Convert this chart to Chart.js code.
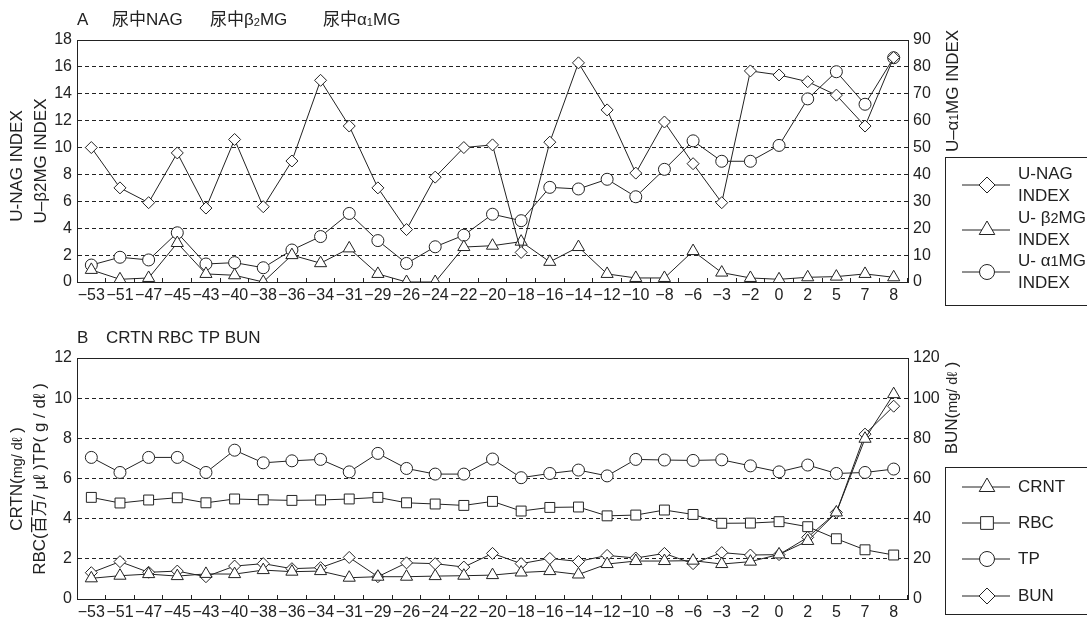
<!DOCTYPE html>
<html><head><meta charset="utf-8">
<script src="https://cdn.jsdelivr.net/npm/chart.js@4/dist/chart.umd.min.js"></script>
<style>
html,body{margin:0;padding:0;background:#fff;}
#wrap{position:relative;width:1087px;height:621px;overflow:hidden;background:#fff;}
#c1{position:absolute;left:0;top:0;}
#c2{position:absolute;left:0;top:310px;}
</style></head><body>
<div id="wrap">
<canvas id="c1" width="1087" height="310"></canvas>
<canvas id="c2" width="1087" height="311"></canvas>
</div>
<script>
// ---- data ----
const categories = [-53,-51,-47,-45,-43,-40,-38,-36,-34,-31,-29,-26,-24,-22,-20,-18,-16,-14,-12,-10,-8,-6,-3,-2,0,2,5,7,8];
const uNag  = [10.0,7.0,5.9,9.6,5.5,10.6,5.6,9.0,15.0,11.6,7.0,3.9,7.8,10.0,10.2,2.2,10.4,16.3,12.8,8.1,11.9,8.8,5.9,15.7,15.4,14.9,13.9,11.6,16.7];
const uB2mg = [0.9,0.2,0.3,2.9,0.6,0.5,0.0,2.0,1.4,2.5,0.6,0.0,0.0,2.6,2.7,3.0,1.5,2.6,0.6,0.3,0.3,2.3,0.7,0.3,0.2,0.35,0.4,0.6,0.35];
const uA1mg = [6.3,9.2,8.2,18.3,6.7,7.2,5.3,11.9,16.9,25.5,15.4,6.9,13.1,17.4,25.2,22.8,35.2,34.6,38.2,31.7,41.9,52.5,44.9,44.9,50.8,68.1,78.2,66.1,83.4];
const crtn  = [1.03,1.16,1.24,1.14,1.25,1.24,1.44,1.36,1.39,1.06,1.11,1.11,1.14,1.16,1.19,1.32,1.39,1.22,1.74,1.89,1.89,1.91,1.74,1.86,2.22,2.89,4.31,7.98,10.2];
const rbc   = [5.06,4.78,4.93,5.04,4.79,4.98,4.94,4.91,4.93,4.98,5.06,4.79,4.73,4.66,4.86,4.38,4.56,4.58,4.14,4.18,4.43,4.21,3.77,3.78,3.85,3.60,3.00,2.45,2.19];
const tp    = [7.05,6.30,7.05,7.05,6.30,7.41,6.78,6.88,6.95,6.33,7.25,6.50,6.22,6.22,6.97,6.04,6.25,6.42,6.13,6.95,6.92,6.90,6.93,6.63,6.33,6.67,6.25,6.30,6.47];
const bun   = [13.1,18.6,13.3,13.9,11.1,16.4,17.6,15.1,15.6,20.7,11.1,18.0,17.6,15.9,22.7,17.6,20.2,18.7,21.7,20.4,22.7,17.6,23.1,21.9,22.1,30.7,43.1,82.1,96.0];
const axisA_left  = {min:0, max:18, step:2};
const axisA_right = {min:0, max:90, step:10};
const axisB_left  = {min:0, max:12, step:2};
const axisB_right = {min:0, max:120, step:20};

// ---- styling helpers ----
const FONT = "'Liberation Sans','Noto Sans CJK JP',sans-serif";
const INK = '#222';
Chart.defaults.font.family = FONT;
Chart.defaults.color = INK;

function drawRich(ctx, runs, x, y, size, align){
  let w = 0;
  const parts = runs.map(r => {
    const [t, f = 1, dy = 0] = Array.isArray(r) ? r : [r];
    ctx.font = (size * f) + 'px ' + FONT;
    const m = ctx.measureText(t).width; w += m;
    return {t, f, dy, m};
  });
  let cx = align === 'center' ? x - w / 2 : x;
  ctx.textBaseline = 'middle'; ctx.textAlign = 'left'; ctx.fillStyle = INK;
  parts.forEach(p => { ctx.font = (size * p.f) + 'px ' + FONT; ctx.fillText(p.t, cx, y + p.dy * size); cx += p.m; });
}
function drawRotated(ctx, runs, x, y, size){
  ctx.save(); ctx.translate(x, y); ctx.rotate(-Math.PI / 2);
  drawRich(ctx, runs, 0, 0, size, 'center'); ctx.restore();
}
function drawMarker(ctx, style, x, y, r){
  ctx.beginPath();
  if (style === 'circle') ctx.arc(x, y, r, 0, Math.PI * 2);
  else if (style === 'rectRot') { ctx.moveTo(x, y - r); ctx.lineTo(x + r, y); ctx.lineTo(x, y + r); ctx.lineTo(x - r, y); ctx.closePath(); }
  else if (style === 'triangle') { ctx.moveTo(x, y - r); ctx.lineTo(x + r * 0.866, y + r * 0.5); ctx.lineTo(x - r * 0.866, y + r * 0.5); ctx.closePath(); }
  else if (style === 'rect') { const s = r * Math.SQRT1_2; ctx.rect(x - s, y - s, 2 * s, 2 * s); }
  ctx.fillStyle = '#fff'; ctx.fill(); ctx.strokeStyle = INK; ctx.lineWidth = 1; ctx.stroke();
}
function ds(label, data, style, radius, axis){
  return {label, data, yAxisID: axis, borderColor: INK, borderWidth: 1, pointStyle: style,
    pointRadius: radius, pointHoverRadius: radius, pointBackgroundColor: '#fff', pointBorderColor: INK,
    pointBorderWidth: 1, tension: 0, fill: false};
}
const fmtCat = (v, i) => String(categories[i]).replace('-', '\u2212');

function makeScales(L, R, xh){
  return {
    x: { type: 'category', offset: true,
      grid: { offset: true, drawOnChartArea: false, drawTicks: true, tickLength: -4, color: INK, lineWidth: 1 },
      border: { display: true, color: INK, width: 1 },
      ticks: { autoSkip: false, maxRotation: 0, minRotation: 0, padding: 8, font: { size: 16 }, color: INK, callback: fmtCat },
      afterFit: s => { s.height = xh; } },
    yL: { position: 'left', min: L.min, max: L.max,
      ticks: { stepSize: L.step, padding: 5, font: { size: 16 }, color: INK },
      grid: { drawTicks: false, lineWidth: 1,
        color: c => (c.tick.value === L.min || c.tick.value === L.max) ? 'rgba(0,0,0,0)' : '#222' },
      border: { display: true, color: INK, width: 1, dash: [4, 3] },
      afterFit: s => { s.width = 77; } },
    yR: { position: 'right', min: R.min, max: R.max,
      ticks: { stepSize: R.step, padding: 5, font: { size: 16 }, color: INK },
      grid: { drawOnChartArea: false, drawTicks: false },
      border: { display: false },
      afterFit: s => { s.width = 40; } }
  };
}

function decoPlugin(cfg){
  return { id: 'deco', afterDraw(chart){
    const ctx = chart.ctx, a = chart.chartArea;
    ctx.save();
    ctx.strokeStyle = INK; ctx.lineWidth = 1; ctx.setLineDash([]);
    ctx.strokeRect(Math.round(a.left) + 0.5, Math.round(a.top) + 0.5, Math.round(a.right - a.left), Math.round(a.bottom - a.top));
    cfg.titles.forEach(t => drawRich(ctx, t.runs, t.x, t.y, t.size, 'left'));
    cfg.axisTitles.forEach(t => drawRotated(ctx, t.runs, t.x, t.y, t.size));
    const lg = cfg.legend;
    ctx.strokeStyle = INK; ctx.lineWidth = 1;
    ctx.strokeRect(lg.x + 0.5, lg.y + 0.5, 200, lg.h);
    lg.items.forEach(it => {
      ctx.beginPath(); ctx.moveTo(lg.x + 17, it.y); ctx.lineTo(lg.x + 65, it.y); ctx.strokeStyle = INK; ctx.stroke();
      drawMarker(ctx, it.style, lg.x + 42, it.y, it.r);
      it.lines.forEach(l => drawRich(ctx, l.runs, lg.x + 73, l.y, 17, 'left'));
    });
    ctx.restore();
  }};
}

// ---- Chart A ----
new Chart(document.getElementById('c1'), {
  type: 'line',
  data: { labels: categories, datasets: [
    ds('U-NAG INDEX', uNag, 'rectRot', 6, 'yL'),
    ds('U-β2MG INDEX', uB2mg, 'triangle', 7, 'yL'),
    ds('U-α1MG INDEX', uA1mg, 'circle', 6, 'yR')
  ]},
  options: {
    responsive: false, animation: false, events: [],
    layout: { padding: { left: 0, right: 139, top: 40, bottom: 3 } },
    plugins: { legend: { display: false }, title: { display: false }, tooltip: { enabled: false } },
    scales: makeScales(axisA_left, axisA_right, 25)
  },
  plugins: [decoPlugin({
    titles: [
      { runs: ['A'], x: 77, y: 20, size: 17 },
      { runs: ['尿中NAG'], x: 112, y: 20, size: 17 },
      { runs: ['尿中β', ['2', 0.65, 0.15], 'MG'], x: 210, y: 20, size: 17 },
      { runs: ['尿中α', ['1', 0.65, 0.15], 'MG'], x: 323, y: 20, size: 17 }
    ],
    axisTitles: [
      { runs: ['U-NAG INDEX'], x: 17, y: 166, size: 17 },
      { runs: ['U\u2013β2MG INDEX'], x: 41, y: 161, size: 17 },
      { runs: ['U\u2013α', ['1', 0.7, 0.1], 'MG INDEX'], x: 953, y: 91, size: 17 }
    ],
    legend: { x: 945, y: 157, h: 148, items: [
      { style: 'rectRot', r: 8, y: 185, lines: [{ runs: ['U-NAG'], y: 174 }, { runs: ['INDEX'], y: 196 }] },
      { style: 'triangle', r: 9, y: 230, lines: [{ runs: ['U- β', ['2', 0.85, 0.05], 'MG'], y: 218 }, { runs: ['INDEX'], y: 240 }] },
      { style: 'circle', r: 7.5, y: 272, lines: [{ runs: ['U- α', ['1', 0.85, 0.05], 'MG'], y: 261 }, { runs: ['INDEX'], y: 283 }] }
    ]}
  })]
});

// ---- Chart B ----
new Chart(document.getElementById('c2'), {
  type: 'line',
  data: { labels: categories, datasets: [
    ds('CRNT', crtn, 'triangle', 7, 'yL'),
    ds('RBC', rbc, 'rect', 7, 'yL'),
    ds('TP', tp, 'circle', 6, 'yL'),
    ds('BUN', bun, 'rectRot', 6, 'yR')
  ]},
  options: {
    responsive: false, animation: false, events: [],
    layout: { padding: { left: 0, right: 139, top: 48, bottom: 2 } },
    plugins: { legend: { display: false }, title: { display: false }, tooltip: { enabled: false } },
    scales: makeScales(axisB_left, axisB_right, 20)
  },
  plugins: [decoPlugin({
    titles: [
      { runs: ['B'], x: 77, y: 28, size: 17 },
      { runs: ['CRTN RBC TP BUN'], x: 106, y: 28, size: 17 }
    ],
    axisTitles: [
      { runs: ['CRTN(', ['mg/ dℓ', 0.85, 0.06], ' )'], x: 17, y: 169, size: 17 },
      { runs: ['RBC(百万/ μℓ )TP( g / dℓ )'], x: 40, y: 169, size: 17 },
      { runs: ['BUN(', ['mg/ dℓ', 0.85, 0.06], ' )'], x: 952, y: 98, size: 17 }
    ],
    legend: { x: 945, y: 157, h: 147, items: [
      { style: 'triangle', r: 9, y: 177, lines: [{ runs: ['CRNT'], y: 177 }] },
      { style: 'rect', r: 9, y: 213, lines: [{ runs: ['RBC'], y: 213 }] },
      { style: 'circle', r: 7.5, y: 249, lines: [{ runs: ['TP'], y: 249 }] },
      { style: 'rectRot', r: 8, y: 286, lines: [{ runs: ['BUN'], y: 286 }] }
    ]}
  })]
});
</script>
</body></html>
